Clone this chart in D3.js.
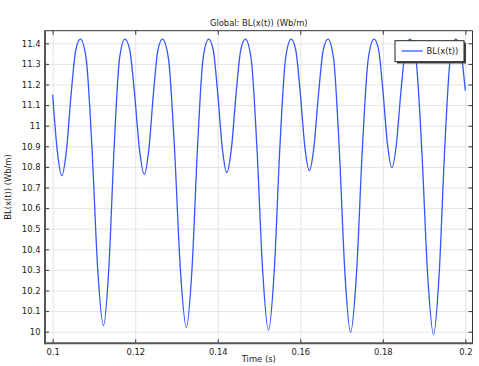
<!DOCTYPE html>
<html>
<head>
<meta charset="utf-8">
<script src="https://cdn.jsdelivr.net/npm/d3@7"></script>
<style>
  html, body { margin: 0; padding: 0; background: #fff; }
  svg { display: block; }
  text { font-family: "DejaVu Sans", sans-serif; fill: #1a1a1a; }
</style>
</head>
<body>
<div id="chart"></div>
<script>
// ---- data ----
const time = [
  0.1000, 0.1011, 0.1022, 0.10333, 0.10445, 0.10558, 0.1067,
  0.1081, 0.1095, 0.1109, 0.1123, 0.1136, 0.1149, 0.1162, 0.1175,
  0.11868, 0.11985, 0.12103, 0.1222, 0.1233, 0.1244, 0.1255, 0.1266,
  0.12805, 0.1295, 0.13095, 0.1324, 0.13375, 0.1351, 0.13645, 0.1378,
  0.1389, 0.1400, 0.1411, 0.1422, 0.14333, 0.14445, 0.14558, 0.1467,
  0.1481, 0.1495, 0.1509, 0.1523, 0.15368, 0.15505, 0.15643, 0.1578,
  0.1589, 0.1600, 0.1611, 0.1622, 0.16333, 0.16445, 0.16558, 0.1667,
  0.16808, 0.16945, 0.17083, 0.1722, 0.17363, 0.17505, 0.17648, 0.1779,
  0.17898, 0.18005, 0.18113, 0.1822, 0.1833, 0.1844, 0.1855, 0.1866,
  0.18803, 0.18945, 0.19088, 0.1923, 0.19365, 0.1950, 0.19635, 0.1977,
  0.19883, 0.2000
];
const blValues = [
  11.150, 10.880, 10.757, 10.880, 11.150, 11.366, 11.420,
  11.327, 10.900, 10.307, 10.029, 10.307, 10.900, 11.327, 11.420,
  11.367, 11.153, 10.885, 10.764, 10.885, 11.153, 11.367, 11.420,
  11.326, 10.897, 10.301, 10.021, 10.301, 10.897, 11.326, 11.420,
  11.368, 11.156, 10.892, 10.772, 10.892, 11.156, 11.368, 11.420,
  11.325, 10.892, 10.290, 10.008, 10.290, 10.892, 11.325, 11.420,
  11.368, 11.160, 10.900, 10.782, 10.900, 11.160, 11.368, 11.420,
  11.325, 10.888, 10.282, 9.997, 10.282, 10.888, 11.325, 11.420,
  11.369, 11.166, 10.911, 10.796, 10.911, 11.166, 11.369, 11.420,
  11.324, 10.884, 10.274, 9.987, 10.274, 10.884, 11.324, 11.420,
  11.370, 11.170
];
const xTicks = [0.1, 0.12, 0.14, 0.16, 0.18, 0.2];
const xTickLabels = ["0.1", "0.12", "0.14", "0.16", "0.18", "0.2"];
const yTicks = [10, 10.1, 10.2, 10.3, 10.4, 10.5, 10.6, 10.7, 10.8, 10.9, 11, 11.1, 11.2, 11.3, 11.4];
const yTickLabels = ["10", "10.1", "10.2", "10.3", "10.4", "10.5", "10.6", "10.7", "10.8", "10.9", "11", "11.1", "11.2", "11.3", "11.4"];
const titleText = "Global: BL(x(t)) (Wb/m)";
const xLabel = "Time (s)";
const yLabel = "BL(x(t)) (Wb/m)";
const seriesName = "BL(x(t))";

// ---- layout ----
const W = 479, H = 366;
const box = { left: 45, right: 472.5, top: 30.7, bottom: 343.3 };
const fs = 8.4;

const svg = d3.select("#chart").append("svg")
  .attr("width", W).attr("height", H);

const x = d3.scaleLinear().domain([0.1, 0.2]).range([52.7, 465.3]);
const y = d3.scaleLinear().domain([10, 11.4]).range([331.7, 43.3]);

// gridlines
const grid = svg.append("g");
grid.append("g").attr("transform", `translate(0,${box.bottom})`)
  .call(d3.axisBottom(x).tickValues(xTicks).tickSize(-(box.bottom - box.top)).tickFormat(""))
  .call(g => g.select(".domain").remove())
  .call(g => g.selectAll("line").attr("stroke", "#e4e4e4"));
grid.append("g").attr("transform", `translate(${box.left},0)`)
  .call(d3.axisLeft(y).tickValues(yTicks).tickSize(-(box.right - box.left)).tickFormat(""))
  .call(g => g.select(".domain").remove())
  .call(g => g.selectAll("line").attr("stroke", "#e4e4e4"));

// curve
svg.append("clipPath").attr("id", "clip").append("rect")
  .attr("x", box.left).attr("y", box.top)
  .attr("width", box.right - box.left).attr("height", box.bottom - box.top);

const pts = time.map((t, i) => [t, blValues[i]]);
svg.append("path")
  .attr("clip-path", "url(#clip)")
  .attr("d", d3.line().x(d => x(d[0])).y(d => y(d[1])).curve(d3.curveMonotoneX)(pts))
  .attr("fill", "none")
  .attr("stroke", "#3355ff")
  .attr("stroke-width", 1.3);

// axes (inward ticks)
const axB = svg.append("g").attr("transform", `translate(0,${box.bottom})`)
  .call(d3.axisBottom(x).tickValues(xTicks).tickSize(-4).tickPadding(5.5)
    .tickFormat((d, i) => xTickLabels[i]));
const axT = svg.append("g").attr("transform", `translate(0,${box.top})`)
  .call(d3.axisTop(x).tickValues(xTicks).tickSize(-4).tickFormat(""));
const axL = svg.append("g").attr("transform", `translate(${box.left},0)`)
  .call(d3.axisLeft(y).tickValues(yTicks).tickSize(-4).tickPadding(4.5)
    .tickFormat((d, i) => yTickLabels[i]));
const axR = svg.append("g").attr("transform", `translate(${box.right},0)`)
  .call(d3.axisRight(y).tickValues(yTicks).tickSize(-4).tickFormat(""));
[axB, axT, axL, axR].forEach(a => {
  a.select(".domain").remove();
  a.selectAll("line").attr("stroke", "#333");
  a.selectAll("text").attr("font-size", fs).attr("font-family", "DejaVu Sans, sans-serif").attr("fill", "#1a1a1a");
});

// frame
svg.append("line").attr("x1", box.left).attr("x2", box.right).attr("y1", box.top).attr("y2", box.top)
  .attr("stroke", "#333").attr("stroke-width", 1);
svg.append("line").attr("x1", box.right).attr("x2", box.right).attr("y1", box.top).attr("y2", box.bottom)
  .attr("stroke", "#333").attr("stroke-width", 1);
svg.append("line").attr("x1", box.left).attr("x2", box.left).attr("y1", box.top - 0.5).attr("y2", box.bottom + 1)
  .attr("stroke", "#555").attr("stroke-width", 2);
svg.append("line").attr("x1", box.left - 1).attr("x2", box.right + 0.5).attr("y1", box.bottom).attr("y2", box.bottom)
  .attr("stroke", "#555").attr("stroke-width", 2);

// title & labels
svg.append("text").attr("x", (box.left + box.right) / 2).attr("y", 26)
  .attr("text-anchor", "middle").attr("font-size", fs).text(titleText);
svg.append("text").attr("x", (box.left + box.right) / 2).attr("y", 362)
  .attr("text-anchor", "middle").attr("font-size", fs).text(xLabel);
svg.append("text").attr("transform", `translate(11,${(box.top + box.bottom) / 2}) rotate(-90)`)
  .attr("text-anchor", "middle").attr("font-size", fs).text(yLabel);

// legend
const lg = svg.append("g");
lg.append("rect").attr("x", 397).attr("y", 42.5).attr("width", 69).attr("height", 21).attr("fill", "#444");
lg.append("rect").attr("x", 395).attr("y", 40.7).attr("width", 69).attr("height", 21)
  .attr("fill", "#fff").attr("stroke", "#222").attr("stroke-width", 1);
lg.append("line").attr("x1", 401.7).attr("x2", 422.7).attr("y1", 51).attr("y2", 51)
  .attr("stroke", "#3355ff").attr("stroke-width", 1.3);
lg.append("text").attr("x", 426.5).attr("y", 54).attr("font-size", fs).text(seriesName);
</script>
</body>
</html>
